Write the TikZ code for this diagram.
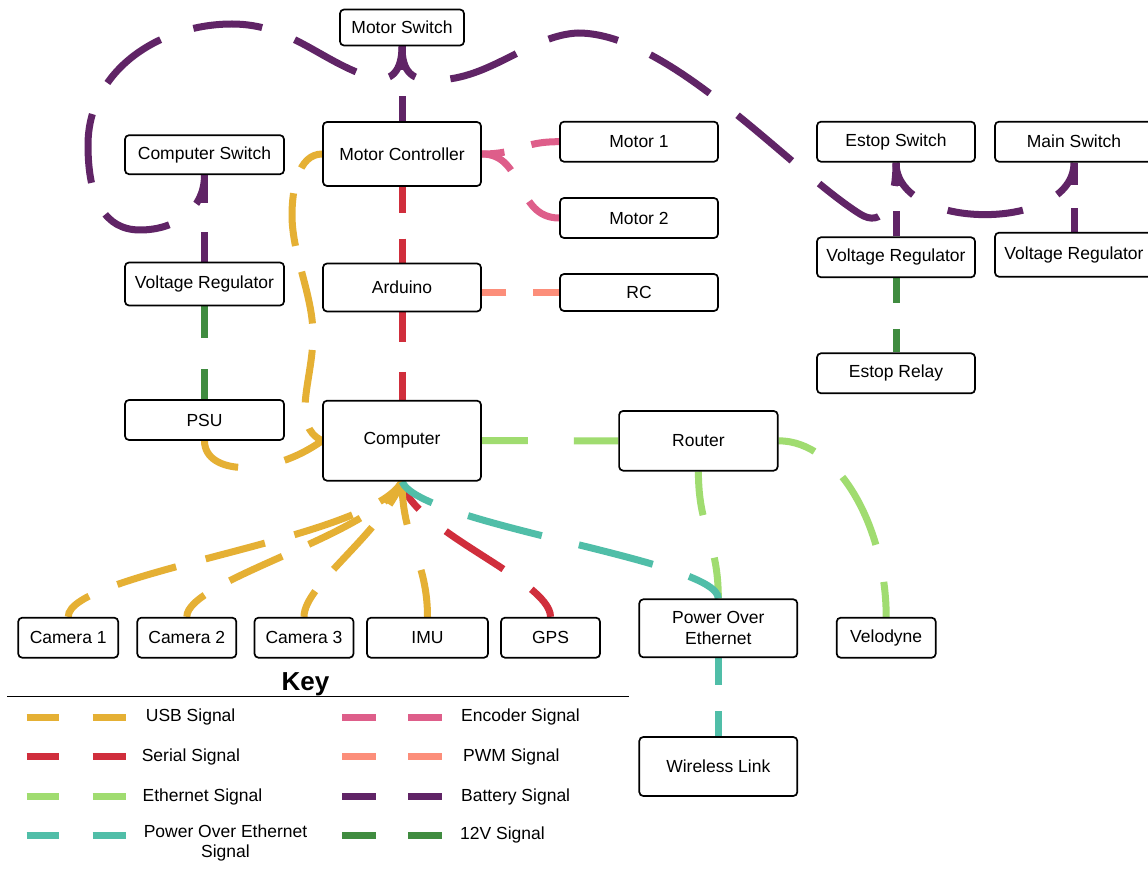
\documentclass[tikz,border=0pt]{standalone}
\usepackage{fontspec}
\setmainfont{Liberation Sans}
\pgfdeclarelayer{paper}
\pgfdeclarelayer{wires}
\pgfsetlayers{paper,wires,main}

\definecolor{cusb}{RGB}{229,176,52}
\definecolor{cserial}{RGB}{208,46,60}
\definecolor{cether}{RGB}{160,220,112}
\definecolor{cpoe}{RGB}{80,190,168}
\definecolor{cenc}{RGB}{222,94,138}
\definecolor{cpwm}{RGB}{252,142,122}
\definecolor{cbatt}{RGB}{96,36,102}
\definecolor{cvtw}{RGB}{64,140,64}

\newcommand\boxfont{\fontsize{17.5}{21}\selectfont}

\tikzset{
  box/.style={draw=black, line width=1.7pt, rounded corners=4pt, fill=white,
    inner sep=0pt, align=center, font=\boxfont},
  % colour, dash length, half dash length: the stroke starts and ends on a half dash
  wire/.style n args={3}{draw=#1, line width=7pt,
    dash pattern=on #2pt off #3pt, dash phase=#3pt},
  swatch/.style={line width=7pt},
  keylabel/.style={font=\boxfont, inner sep=0pt, anchor=base west},
}

\begin{document}
\begin{tikzpicture}[x=1pt,y=-1pt]
\useasboundingbox (0,0) rectangle (1148,874);
\begin{pgfonlayer}{paper}
\fill[white] (0,0) rectangle (1148,874);
\end{pgfonlayer}

% ---- blocks ----
\node[box, minimum width=124pt, minimum height=36pt] (msw) at (402,27.5) {Motor Switch};
\node[box, minimum width=159pt, minimum height=39pt] (csw) at (204.5,154.7) {Computer Switch};
\node[box, minimum width=158pt, minimum height=64pt] (mc) at (402,154) {Motor Controller};
\node[box, minimum width=158pt, minimum height=40pt] (m1) at (639,141.7) {Motor 1};
\node[box, minimum width=158pt, minimum height=40pt] (m2) at (639,218) {Motor 2};
\node[box, minimum width=159pt, minimum height=43pt] (vrl) at (204.5,284) {Voltage Regulator};
\node[box, minimum width=158pt, minimum height=48pt] (ard) at (402,287.5) {Arduino};
\node[box, minimum width=158pt, minimum height=37pt] (rc) at (639,292.5) {RC};
\node[box, minimum width=159pt, minimum height=40pt] (psu) at (204.5,420) {PSU};
\node[box, minimum width=158pt, minimum height=80pt] (comp) at (402,440.7) {Computer};
\node[box, minimum width=158.6pt, minimum height=59.7pt] (router) at (698.4,440.8) {Router};
\node[box, minimum width=158pt, minimum height=40pt] (estop) at (896,141.7) {Estop Switch};
\node[box, minimum width=158pt, minimum height=40pt] (mainsw) at (1074,141.7) {Main Switch};
\node[box, minimum width=158pt, minimum height=40pt] (vrm) at (896,257.3) {Voltage Regulator};
\node[box, minimum width=158pt, minimum height=44pt] (vrr) at (1074,254.7) {Voltage Regulator};
\node[box, minimum width=158pt, minimum height=40pt] (relay) at (896,373.3) {Estop Relay};
\node[box, minimum width=100pt, minimum height=40pt] (cam1) at (68.2,637.7) {Camera 1};
\node[box, minimum width=99pt, minimum height=40pt] (cam2) at (186.8,637.7) {Camera 2};
\node[box, minimum width=99pt, minimum height=40pt] (cam3) at (304,637.7) {Camera 3};
\node[box, minimum width=121pt, minimum height=40pt] (imu) at (427.5,637.7) {IMU};
\node[box, minimum width=99pt, minimum height=40pt] (gps) at (550.5,637.7) {GPS};
\node[box, minimum width=158pt, minimum height=58pt] (poe) at (718.3,628.3) {Power Over\\Ethernet};
\node[box, minimum width=99pt, minimum height=40pt] (velo) at (886.2,637.7) {Velodyne};
\node[box, minimum width=158pt, minimum height=59pt] (wl) at (718.3,766.5) {Wireless Link};

% ---- connectors ----
\begin{pgfonlayer}{wires}
% battery
\draw[wire={cbatt}{51}{25.5}] (mc.north) -- (msw.south);
\draw[wire={cbatt}{58.9}{29.45}] (vrl.north) -- (csw.south);
\draw[wire={cbatt}{50.4}{25.2}] (vrm.north) -- (estop.south);
\draw[wire={cbatt}{47.3}{23.65}] (vrr.north) -- (mainsw.south);
\draw[wire={cbatt}{69.4}{34.7}] (msw.south) .. controls (402,70) and (392,84) .. (370,77)
   .. controls (320,61) and (290,24) .. (232,24)
   .. controls (160,24) and (88,70) .. (88,145)
   .. controls (88,200) and (105,230) .. (140,230)
   .. controls (175,230) and (204.5,210) .. (csw.south);
\draw[wire={cbatt}{70.9}{35.45}] (msw.south) .. controls (402,72) and (412,81) .. (435,80)
   .. controls (490,80) and (530,35) .. (578,33)
   .. controls (670,33) and (790,170) .. (860,214)
   .. controls (882,228) and (896,205) .. (estop.south);
\draw[wire={cbatt}{76}{38}] (estop.south) .. controls (896,232) and (1074,232) .. (mainsw.south);
% encoder
\draw[wire={cenc}{56}{28}] (m1.west) .. controls (520,141.7) and (520,154) .. (mc.east);
\draw[wire={cenc}{72}{36}] (m2.west) .. controls (515,218) and (525,154) .. (mc.east);
% pwm
\draw[wire={cpwm}{52.7}{26.35}] (rc.west) -- (rc.west -| ard.east);
% serial
\draw[wire={cserial}{51.7}{25.85}] (mc.south) -- (ard.north);
\draw[wire={cserial}{59.5}{29.75}] (ard.south) -- (comp.north);
\draw[wire={cserial}{69}{34.5}] (gps.north) .. controls (550.5,580) and (410,530) .. (comp.south);
% usb
\draw[wire={cusb}{53}{26.5}] (mc.west) .. controls (298,154) and (292,190) .. (292,215)
   .. controls (292,255) and (313,295) .. (313,335)
   .. controls (313,380) and (290,425) .. (comp.west);
\draw[wire={cusb}{94.7}{47.35}] (psu.south) .. controls (204.5,475) and (270,478) .. (comp.west);
\draw[wire={cusb}{61.3}{30.65}] (cam1.north) .. controls (68.2,572) and (370,540) .. (comp.south);
\draw[wire={cusb}{58}{29}] (cam2.north) .. controls (186.8,580) and (375,535) .. (comp.south);
\draw[wire={cusb}{57}{28.5}] (cam3.north) .. controls (304,585) and (380,535) .. (comp.south);
\draw[wire={cusb}{95}{47.5}] (imu.north) .. controls (427.5,560) and (402,540) .. (comp.south);
% 12 V
\draw[wire={cvtw}{63}{31.5}] (vrl.south) -- (psu.north);
\draw[wire={cvtw}{50.7}{25.35}] (vrm.south) -- (relay.north);
% ethernet
\draw[wire={cether}{92.1}{46.05}] (comp.east) -- (router.west);
\draw[wire={cether}{88}{44}] (router.south) .. controls (698.4,530) and (718.3,540) .. (poe.north);
\draw[wire={cether}{76}{38}] (router.east) .. controls (840,440.8) and (886.2,530) .. (velo.north);
% power over ethernet
\draw[wire={cpoe}{76.4}{38.2}] (poe.north) .. controls (718.3,560) and (420,525) .. (comp.south);
\draw[wire={cpoe}{53.1}{26.55}] (poe.south) -- (wl.north);
\end{pgfonlayer}

% ---- key ----
\node[font=\fontsize{26}{30}\selectfont\bfseries, inner sep=0pt] (keytitle) at (305.5,684) {Key};
\draw[line width=1.5pt] (7.3,696.7) -- (628.6,696.7);

\draw[swatch, cusb] (26.7,717.3) -- (59.3,717.3);
\draw[swatch, cusb] (92.7,717.3) -- (126,717.3);
\draw[swatch, cserial] (26.7,756.7) -- (59.3,756.7);
\draw[swatch, cserial] (92.7,756.7) -- (126,756.7);
\draw[swatch, cether] (26.7,796) -- (59.3,796);
\draw[swatch, cether] (92.7,796) -- (126,796);
\draw[swatch, cpoe] (26.7,835.7) -- (59.3,835.7);
\draw[swatch, cpoe] (92.7,835.7) -- (126,835.7);

\draw[swatch, cenc] (342.3,717.3) -- (375.7,717.3);
\draw[swatch, cenc] (408.3,717.3) -- (441.7,717.3);
\draw[swatch, cpwm] (342.3,756.7) -- (375.7,756.7);
\draw[swatch, cpwm] (408.3,756.7) -- (441.7,756.7);
\draw[swatch, cbatt] (342.3,796) -- (375.7,796);
\draw[swatch, cbatt] (408.3,796) -- (441.7,796);
\draw[swatch, cvtw] (342.3,835.7) -- (375.7,835.7);
\draw[swatch, cvtw] (408.3,835.7) -- (441.7,835.7);

\node[keylabel] (kusb) at (145.7,721.3) {USB Signal};
\node[keylabel] (kser) at (141.6,761.3) {Serial Signal};
\node[keylabel] (keth) at (142.4,801.3) {Ethernet Signal};
\node[font=\fontsize{17.5}{20}\selectfont, inner sep=0pt, align=center] (kpoe) at (225.5,843.3) {Power Over Ethernet\\Signal};
\node[keylabel] (kenc) at (461,721.3) {Encoder Signal};
\node[keylabel] (kpwm) at (463,761.3) {PWM Signal};
\node[keylabel] (kbat) at (461,801.3) {Battery Signal};
\node[keylabel] (kvtw) at (460,839.6) {12V Signal};
\end{tikzpicture}
\end{document}
